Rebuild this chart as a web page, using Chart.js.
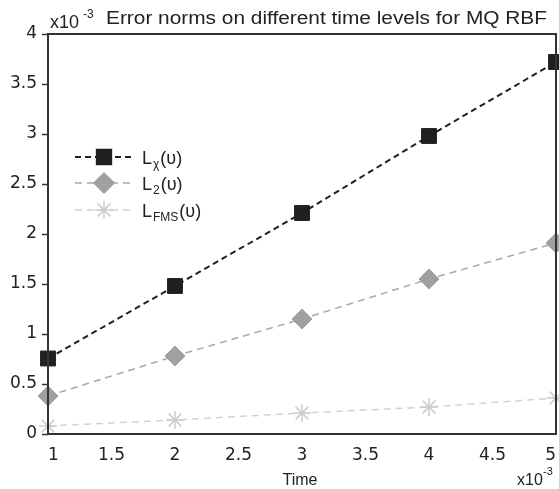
<!DOCTYPE html>
<html>
<head>
<meta charset="utf-8">
<script src="https://cdn.jsdelivr.net/npm/chart.js@4"></script>
<style>
  body { margin: 0; background: #fff; }
  #wrap { width: 559px; height: 489px; }
</style>
</head>
<body>
<div id="wrap"><canvas id="myChart" width="559" height="489"></canvas></div>
<script>
// values are in units of 1e-3
const timeLevels = [1, 2, 3, 4, 5];
const lInf = [0.755, 1.48, 2.21, 2.98, 3.72];
const l2 = [0.38, 0.78, 1.15, 1.55, 1.91];
const lFms = [0.08, 0.14, 0.21, 0.27, 0.36];
const seriesSubs = ['χ', '2', 'FMS'];
const yTicks = [0, 0.5, 1, 1.5, 2, 2.5, 3, 3.5, 4];
const xTicks = [1, 1.5, 2, 2.5, 3, 3.5, 4, 4.5, 5];

const font = "'Liberation Sans', Arial, sans-serif";
const tickFont = "'DejaVu Sans', sans-serif";

function toPoints(arr) {
    return arr.map((v, i) => ({x: timeLevels[i], y: v}));
}

const styles = [
    {color: '#231f20', line: '#231f20', pointStyle: 'rect', radius: 10.5, dash: [6, 4], width: 2},
    {color: '#a0a0a0', line: '#a8a8a8', pointStyle: 'rectRot', radius: 10, dash: [7, 5], width: 1.5},
    {color: '#cccccc', line: '#d2d2d2', pointStyle: 'star', radius: 9, dash: [7, 5], width: 1.5}
];

const allSeries = [lInf, l2, lFms];

// Frame, y tick marks, titles, multiplier labels and legend with subscripts
const decorPlugin = {
    id: 'decor',
    afterDraw(chart) {
        const ctx = chart.ctx;
        const a = chart.chartArea;
        const yScale = chart.scales.y;
        ctx.save();
        ctx.strokeStyle = '#333';
        ctx.lineWidth = 2;
        ctx.setLineDash([]);
        ctx.strokeRect(a.left, a.top, a.right - a.left, a.bottom - a.top);

        ctx.lineWidth = 1.5;
        yTicks.forEach(v => {
            const y = Math.round(yScale.getPixelForValue(v)) + 0.5;
            ctx.beginPath();
            ctx.moveTo(a.left - 6, y);
            ctx.lineTo(a.left, y);
            ctx.stroke();
        });

        ctx.fillStyle = '#222';
        ctx.textBaseline = 'alphabetic';
        ctx.textAlign = 'left';
        // top-left multiplier
        ctx.font = '18px ' + font;
        ctx.fillText('x10', 50, 28);
        ctx.font = '12px ' + font;
        ctx.fillText('-3', 83, 18);
        // title, stretched slightly to the reference width
        ctx.font = '18px ' + font;
        const title = 'Error norms on different time levels for MQ RBF';
        const tw = ctx.measureText(title).width;
        ctx.save();
        ctx.translate(106, 24);
        ctx.scale(441 / tw, 1);
        ctx.fillText(title, 0, 0);
        ctx.restore();
        // x axis title
        ctx.font = '16px ' + font;
        ctx.textAlign = 'center';
        ctx.fillText('Time', 300, 485);
        // bottom-right multiplier
        ctx.textAlign = 'left';
        ctx.fillText('x10', 517, 485);
        ctx.font = '11px ' + font;
        ctx.fillText('-3', 543, 475);

        // legend
        const rows = [157, 183, 210];
        rows.forEach((y, i) => {
            const s = styles[i];
            ctx.strokeStyle = s.line;
            ctx.lineWidth = s.width;
            ctx.setLineDash(s.dash);
            ctx.beginPath();
            ctx.moveTo(75, y);
            ctx.lineTo(134, y);
            ctx.stroke();
            ctx.setLineDash([]);
            ctx.fillStyle = s.color;
            ctx.strokeStyle = s.color;
            ctx.lineWidth = 1.5;
            Chart.helpers.drawPoint(ctx, {pointStyle: s.pointStyle, radius: s.radius, rotation: 0, borderWidth: 1}, 104, y);

            ctx.fillStyle = '#222';
            ctx.font = '18px ' + font;
            ctx.fillText('L', 142, y + 7);
            ctx.font = '12px ' + font;
            ctx.fillText(seriesSubs[i], 153, y + 11);
            const w = ctx.measureText(seriesSubs[i]).width;
            ctx.font = '18px ' + font;
            ctx.fillText('(υ)', 154 + w, y + 7);
        });
        ctx.restore();
    }
};

const chartData = {
    datasets: allSeries.map((arr, i) => ({
        label: 'L' + seriesSubs[i],
        data: toPoints(arr),
        borderColor: styles[i].line,
        borderWidth: styles[i].width,
        borderDash: styles[i].dash,
        backgroundColor: styles[i].color,
        pointBackgroundColor: styles[i].color,
        pointBorderColor: styles[i].color,
        pointBorderWidth: i === 2 ? 1.5 : 1,
        pointStyle: styles[i].pointStyle,
        pointRadius: styles[i].radius,
        fill: false,
        tension: 0,
        clip: false
    })).reverse()
};

const config = {
    type: 'scatter',
    data: chartData,
    options: {
        responsive: false,
        animation: false,
        showLine: true,
        layout: {autoPadding: false, padding: {top: 34, right: 3, left: 0, bottom: 0}},
        scales: {
            x: {
                type: 'linear',
                min: 1,
                max: 5,
                afterFit: scale => { scale.height = 55; },
                afterBuildTicks: scale => { scale.ticks = xTicks.map(v => ({value: v})); },
                grid: {display: false},
                border: {display: false},
                ticks: {
                    color: '#222',
                    padding: 3,
                    align: 'inner',
                    maxRotation: 0,
                    autoSkip: false,
                    callback: v => String(v),
                    font: {family: tickFont, size: 17}
                }
            },
            y: {
                min: 0,
                max: 4,
                afterFit: scale => { scale.width = 48; },
                afterBuildTicks: scale => { scale.ticks = yTicks.map(v => ({value: v})); },
                grid: {display: false},
                border: {display: false},
                ticks: {
                    color: '#222',
                    padding: 3,
                    callback: v => String(v),
                    font: {family: tickFont, size: 17}
                }
            }
        },
        plugins: {
            legend: {display: false},
            tooltip: {enabled: false}
        }
    },
    plugins: [decorPlugin]
};

const chart = new Chart(document.getElementById('myChart'), config);
</script>
</body>
</html>
